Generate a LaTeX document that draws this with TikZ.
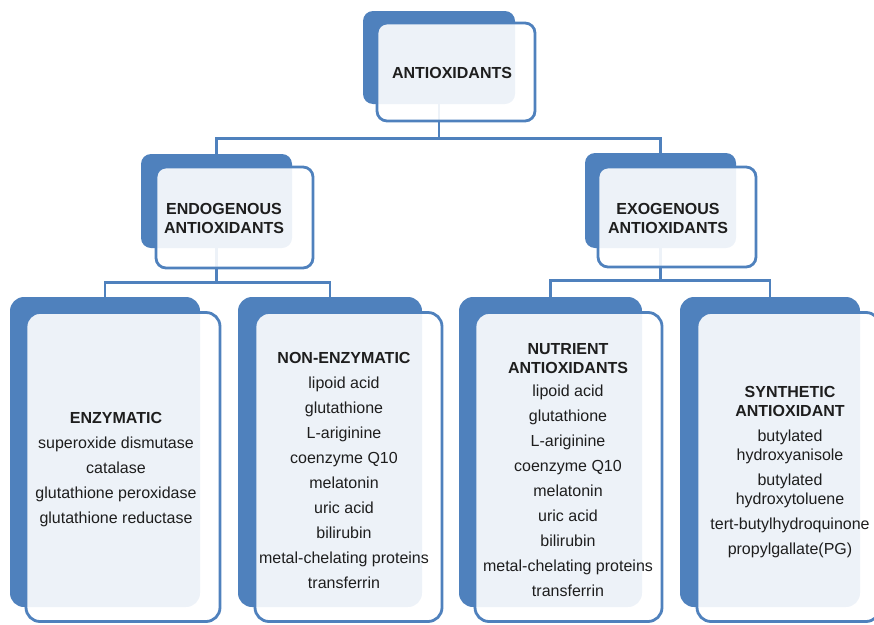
\documentclass[tikz,border=0pt]{standalone}
\usepackage{fontspec}
\setmainfont{Liberation Sans}
\usetikzlibrary{calc}

\definecolor{boxblue}{RGB}{79,129,189}
\definecolor{textgray}{RGB}{30,30,30}

\tikzset{
    backbox/.style={shape=rectangle, draw=none, fill=boxblue, inner sep=0pt},
    frontbox/.style={shape=rectangle, draw=boxblue, line width=2.8pt, fill=white, fill opacity=0.9, inner sep=0pt},
    label text/.style={align=center, inner sep=0pt, text=textgray, font=\fontsize{16}{19}\selectfont},
    link/.style={draw=boxblue, line width=2.8pt}
}

\begin{document}
\begin{tikzpicture}[x=1pt, y=-1pt]
\useasboundingbox (0,0) rectangle (874,624);
\clip (0,0) rectangle (874,624);

% back plates
\begin{scope}[every node/.style={backbox, rounded corners=10pt}]
    \node (antiBack) at (439, 57.5) [minimum width=152pt, minimum height=93pt] {};
    \node (endoBack) at (216.5, 201) [minimum width=151pt, minimum height=94pt] {};
    \node (exoBack) at (660.5, 200.5) [minimum width=151pt, minimum height=95pt] {};
\end{scope}
\begin{scope}[every node/.style={backbox, rounded corners=14pt, minimum height=310pt}]
    \node (enzBack) at (105, 452) [minimum width=190pt] {};
    \node (nonenzBack) at (330, 452) [minimum width=184pt] {};
    \node (nutrBack) at (550.5, 452) [minimum width=183pt] {};
    \node (synthBack) at (770, 452) [minimum width=180pt] {};
\end{scope}

% connectors
\path [link] (antiBack.south) -- ++(0,34) -| (endoBack.north);
\path [link] (antiBack.south) -- ++(0,34) -| (exoBack.north);
\path [link] (endoBack.south) -- ++(0,34) -| (enzBack.north);
\path [link] (endoBack.south) -- ++(0,34) -| (nonenzBack.north);
\path [link] (exoBack.south) -- ++(0,32) -| (nutrBack.north);
\path [link] (exoBack.south) -- ++(0,32) -| (synthBack.north);

% front plates
\begin{scope}[every node/.style={frontbox, rounded corners=10pt}]
    \node (anti) at (456, 72) [minimum width=158pt, minimum height=98pt] {};
    \node (endo) at (234.5, 217.5) [minimum width=157pt, minimum height=101pt] {};
    \node (exo) at (677, 217) [minimum width=158pt, minimum height=100pt] {};
\end{scope}
\begin{scope}[every node/.style={frontbox, rounded corners=14pt, minimum height=309pt}]
    \node (enz) at (123, 467) [minimum width=194pt] {};
    \node (nonenz) at (348.5, 467) [minimum width=187pt] {};
    \node (nutr) at (568.5, 467) [minimum width=187pt] {};
    \node (synth) at (788.5, 467) [minimum width=183pt] {};
\end{scope}

% texts
\begin{scope}[every node/.style={label text}]
    \node (antiTxt) at (452, 73) {\textbf{ANTIOXIDANTS}};
    \node (endoTxt) at (224, 218) {\textbf{ENDOGENOUS}\\\textbf{ANTIOXIDANTS}};
    \node (exoTxt) at (668, 218) {\textbf{EXOGENOUS}\\\textbf{ANTIOXIDANTS}};
    \node (enzTxt) at (116, 470) {\textbf{ENZYMATIC}\\[6pt]superoxide dismutase\\[6pt]catalase\\[6pt]glutathione peroxidase\\[6pt]glutathione reductase};
    \node (nonenzTxt) at (344, 470) {\textbf{NON-ENZYMATIC}\\[6pt]lipoid acid\\[6pt]glutathione\\[6pt]L-ariginine\\[6pt]coenzyme Q10\\[6pt]melatonin\\[6pt]uric acid\\[6pt]bilirubin\\[6pt]metal-chelating proteins\\[6pt]transferrin};
    \node (nutrTxt) at (568, 470) {\textbf{NUTRIENT}\\\textbf{ANTIOXIDANTS}\\[4pt]lipoid acid\\[6pt]glutathione\\[6pt]L-ariginine\\[6pt]coenzyme Q10\\[6pt]melatonin\\[6pt]uric acid\\[6pt]bilirubin\\[6pt]metal-chelating proteins\\[6pt]transferrin};
    \node (synthTxt) at (790, 472) {\textbf{SYNTHETIC}\\\textbf{ANTIOXIDANT}\\[6pt]butylated\\hydroxyanisole\\[6pt]butylated\\hydroxytoluene\\[6pt]tert-butylhydroquinone\\[6pt]propylgallate(PG)};
\end{scope}
\end{tikzpicture}
\end{document}
